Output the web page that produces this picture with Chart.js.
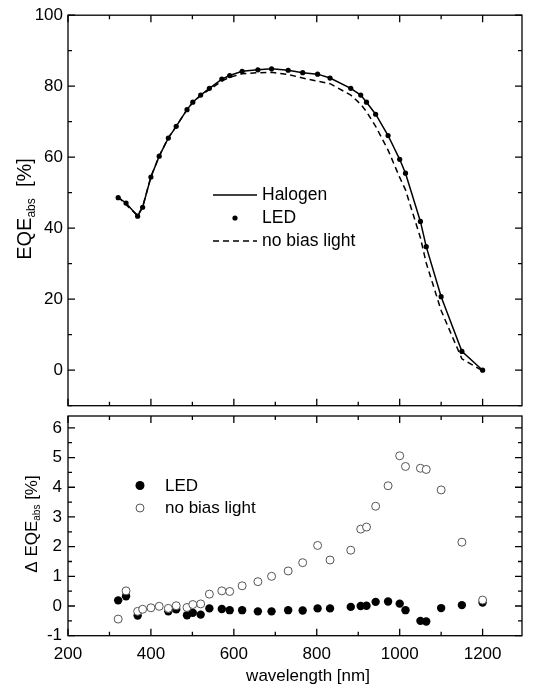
<!DOCTYPE html>
<html>
<head>
<meta charset="utf-8">
<script src="https://cdn.jsdelivr.net/npm/chart.js@4.4.0/dist/chart.umd.min.js"></script>
<style>
  body { margin: 0; background: #fff; }
  #wrap { position: relative; width: 558px; height: 689px; }
  canvas { position: absolute; left: 0; top: 0; }
</style>
</head>
<body>
<div id="wrap">
  <canvas id="topChart" width="558" height="689"></canvas>
  <canvas id="bottomChart" width="558" height="689"></canvas>
</div>
<script>
// wavelengths [nm] of the measured points
const wavelengths = [321, 340, 368, 380, 400, 420, 442, 461, 487, 501, 520, 541, 571, 590, 620, 658, 691, 731,
  766, 802, 832, 882, 906, 920, 942, 972, 1000, 1014, 1050, 1064, 1100, 1150, 1200];

// top panel, EQE_abs [%]
const halogen = [48.6, 47.1, 43.4, 45.9, 54.4, 60.3, 65.4, 68.7, 73.4, 75.5, 77.5, 79.4, 82.0, 83.0, 84.2, 84.6, 84.9, 84.5,
  83.8, 83.4, 82.3, 79.4, 77.5, 75.5, 72.1, 66.1, 59.4, 55.5, 41.9, 34.8, 20.7, 5.3, 0.0];
const led = [48.6, 47.1, 43.4, 45.9, 54.4, 60.3, 65.4, 68.7, 73.4, 75.5, 77.5, 79.4, 82.0, 83.0, 84.2, 84.6, 84.9, 84.5,
  83.8, 83.4, 82.3, 79.4, 77.5, 75.5, 72.1, 66.1, 59.4, 55.5, 41.9, 34.8, 20.7, 5.3, 0.0];
const noBias = [48.9, 46.6, 43.6, 46.0, 54.5, 60.3, 65.5, 68.7, 73.4, 75.4, 77.4, 79.0, 81.5, 82.5, 83.5, 83.8, 83.9, 83.3,
  82.3, 81.4, 80.7, 77.5, 74.9, 72.8, 68.7, 62.0, 54.3, 50.8, 37.3, 30.2, 16.8, 3.2, -0.2];

// bottom panel, delta EQE_abs [%]
const deltaLed = [0.19, 0.33, -0.32, null, null, null, -0.18, -0.11, -0.31, -0.23, -0.29, -0.08, -0.10, -0.14, -0.14, -0.18, -0.18, -0.14,
  -0.15, -0.08, -0.08, -0.03, 0.00, 0.01, 0.14, 0.15, 0.08, -0.14, -0.50, -0.52, -0.07, 0.03, 0.12];
const deltaNoBias = [-0.44, 0.51, -0.18, -0.11, -0.06, -0.01, -0.08, 0.01, -0.05, 0.05, 0.07, 0.40, 0.51, 0.49, 0.68, 0.82, 1.00, 1.18,
  1.46, 2.04, 1.55, 1.88, 2.59, 2.66, 3.36, 4.05, 5.06, 4.70, 4.64, 4.60, 3.91, 2.15, 0.20];

// tick positions (labelled ones are the multiples listed in *Labels)
const xTicks = [200, 300, 400, 500, 600, 700, 800, 900, 1000, 1100, 1200];
const xLabels = [200, 400, 600, 800, 1000, 1200];
const topYTicks = [-10, 0, 10, 20, 30, 40, 50, 60, 70, 80, 90, 100];
const topYLabels = [0, 20, 40, 60, 80, 100];
const bottomYTicks = [-1, -0.5, 0, 0.5, 1, 1.5, 2, 2.5, 3, 3.5, 4, 4.5, 5, 5.5, 6];
const bottomYLabels = [-1, 0, 1, 2, 3, 4, 5, 6];

const FONT = '"Liberation Sans", Arial, sans-serif';
Chart.defaults.font.family = FONT;
Chart.defaults.color = '#000';

function pts(ys) {
  return wavelengths.map((x, i) => ({x: x, y: ys[i]}));
}

function setTicks(values) {
  return scale => { scale.ticks = values.map(v => ({value: v})); };
}

function labelIf(list) {
  return v => list.includes(v) ? String(v) : '';
}

// frame with inward ticks on all four sides
const frame = {
  id: 'frame',
  afterDraw(chart, args, opts) {
    const ctx = chart.ctx;
    const a = chart.chartArea;
    const xs = chart.scales.x, ys = chart.scales.y;
    ctx.save();
    ctx.strokeStyle = '#000';
    ctx.lineWidth = 1.3;
    ctx.strokeRect(a.left, a.top, a.right - a.left, a.bottom - a.top);
    ctx.beginPath();
    xs.ticks.forEach(t => {
      const px = xs.getPixelForValue(t.value);
      const len = opts.xMajor.includes(t.value) ? 7 : 4;
      ctx.moveTo(px, a.bottom); ctx.lineTo(px, a.bottom - len);
      ctx.moveTo(px, a.top); ctx.lineTo(px, a.top + len);
    });
    ys.ticks.forEach(t => {
      const py = ys.getPixelForValue(t.value);
      const len = opts.yMajor.includes(t.value) ? 7 : 4;
      ctx.moveTo(a.left, py); ctx.lineTo(a.left + len, py);
      ctx.moveTo(a.right, py); ctx.lineTo(a.right - len, py);
    });
    ctx.stroke();
    ctx.restore();
  }
};

function rotatedTitle(ctx, cx, cy, size, pre, sub, post) {
  ctx.save();
  ctx.translate(cx, cy);
  ctx.rotate(-Math.PI / 2);
  ctx.fillStyle = '#000';
  ctx.textBaseline = 'middle';
  ctx.textAlign = 'left';
  const big = size + 'px ' + FONT;
  const small = Math.round(size * 0.6) + 'px ' + FONT;
  ctx.font = big;
  const w1 = ctx.measureText(pre).width, w3 = ctx.measureText(post).width;
  ctx.font = small;
  const w2 = ctx.measureText(sub).width;
  let x = -(w1 + w2 + w3) / 2;
  ctx.font = big; ctx.fillText(pre, x, 0); x += w1;
  ctx.font = small; ctx.fillText(sub, x, size * 0.32); x += w2;
  ctx.font = big; ctx.fillText(post, x, 0);
  ctx.restore();
}

const topLabels = {
  id: 'topLabels',
  afterDraw(chart) {
    const ctx = chart.ctx;
    rotatedTitle(ctx, 25, 209, 20, 'EQE', 'abs', '  [%]');
    ctx.save();
    ctx.strokeStyle = '#000';
    ctx.fillStyle = '#000';
    ctx.lineWidth = 1.5;
    ctx.beginPath(); ctx.moveTo(213, 195); ctx.lineTo(257, 195); ctx.stroke();
    ctx.beginPath(); ctx.arc(235, 218, 2.6, 0, Math.PI * 2); ctx.fill();
    ctx.setLineDash([6, 4]);
    ctx.beginPath(); ctx.moveTo(213, 241); ctx.lineTo(257, 241); ctx.stroke();
    ctx.setLineDash([]);
    ctx.font = '17.5px ' + FONT;
    ctx.textBaseline = 'middle';
    ctx.fillText('Halogen', 262, 195);
    ctx.fillText('LED', 262, 218);
    ctx.fillText('no bias light', 262, 241);
    ctx.restore();
  }
};

const bottomLabels = {
  id: 'bottomLabels',
  afterDraw(chart) {
    const ctx = chart.ctx;
    rotatedTitle(ctx, 32, 524, 17, '\u0394 EQE', 'abs', ' [%]');
    ctx.save();
    ctx.fillStyle = '#000';
    ctx.font = '17px ' + FONT;
    ctx.textBaseline = 'middle';
    ctx.textAlign = 'center';
    ctx.fillText('wavelength [nm]', 308, 676);
    ctx.textAlign = 'left';
    ctx.beginPath(); ctx.arc(140, 485.5, 4.5, 0, Math.PI * 2); ctx.fill();
    ctx.strokeStyle = '#555';
    ctx.lineWidth = 1;
    ctx.beginPath(); ctx.arc(140, 508, 4, 0, Math.PI * 2); ctx.stroke();
    ctx.fillText('LED', 165, 486);
    ctx.fillText('no bias light', 165, 508);
    ctx.restore();
  }
};

const xBase = {
  type: 'linear', min: 200, max: 1295,
  grid: {display: false, drawTicks: false},
  border: {display: false},
  afterBuildTicks: setTicks(xTicks)
};

new Chart(document.getElementById('topChart'), {
  type: 'scatter',
  data: {
    datasets: [
      {label: 'LED', data: pts(led), showLine: false, pointRadius: 2.6, pointBackgroundColor: '#000', pointBorderWidth: 0, order: 0},
      {label: 'Halogen', data: pts(halogen), showLine: true, borderColor: '#000', borderWidth: 1.5, pointRadius: 0, order: 1},
      {label: 'no bias light', data: pts(noBias), showLine: true, borderColor: '#000', borderWidth: 1.5, borderDash: [6, 4], pointRadius: 0, order: 2}
    ]
  },
  options: {
    responsive: false, animation: false,
    layout: {padding: {left: 0, right: 36, top: 14, bottom: 283.3}},
    plugins: {legend: {display: false}, tooltip: {enabled: false}, frame: {xMajor: xLabels, yMajor: topYLabels}},
    scales: {
      x: Object.assign({}, xBase, {
        ticks: {display: false},
        afterFit: s => { s.height = 0; }
      }),
      y: {
        type: 'linear', min: -10, max: 100,
        grid: {display: false, drawTicks: false},
        border: {display: false},
        afterBuildTicks: setTicks(topYTicks),
        ticks: {padding: 5, font: {size: 17}, callback: labelIf(topYLabels)},
        afterFit: s => { s.width = 68; }
      }
    }
  },
  plugins: [frame, topLabels]
});

new Chart(document.getElementById('bottomChart'), {
  type: 'scatter',
  data: {
    datasets: [
      {label: 'no bias light', data: pts(deltaNoBias), pointRadius: 4, pointBackgroundColor: '#fff', pointBorderColor: '#555', pointBorderWidth: 1, order: 0},
      {label: 'LED', data: pts(deltaLed), pointRadius: 4.2, pointBackgroundColor: '#000', pointBorderWidth: 0, order: 1}
    ]
  },
  options: {
    responsive: false, animation: false,
    layout: {padding: {left: 0, right: 36, top: 416, bottom: 0}},
    plugins: {legend: {display: false}, tooltip: {enabled: false}, frame: {xMajor: xLabels, yMajor: bottomYLabels}},
    scales: {
      x: Object.assign({}, xBase, {
        ticks: {padding: 8, maxRotation: 0, minRotation: 0, autoSkip: false, font: {size: 17},
          callback: labelIf(xLabels)},
        afterFit: s => { s.height = 53.3; }
      }),
      y: {
        type: 'linear', min: -1, max: 6.4,
        grid: {display: false, drawTicks: false},
        border: {display: false},
        afterBuildTicks: setTicks(bottomYTicks),
        ticks: {padding: 6, autoSkip: false, font: {size: 17}, callback: labelIf(bottomYLabels)},
        afterFit: s => { s.width = 68; }
      }
    }
  },
  plugins: [frame, bottomLabels]
});
</script>
</body>
</html>
